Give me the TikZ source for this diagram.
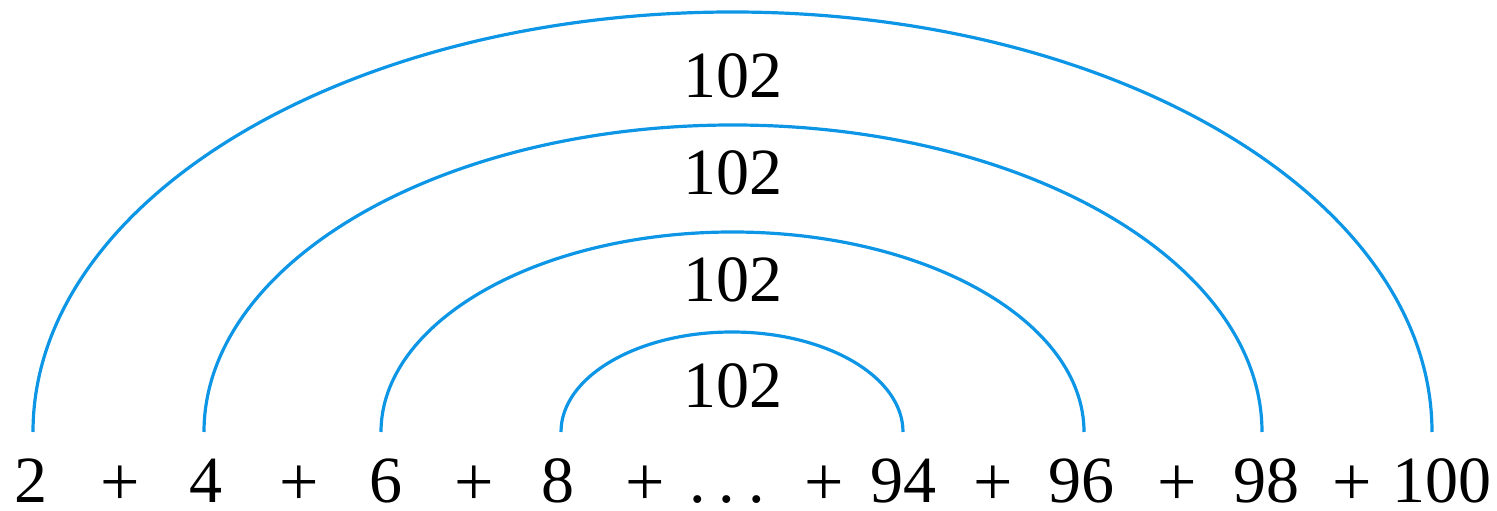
\documentclass[tikz,border=0pt]{standalone}
\usepackage{fontspec}
\setmainfont{Liberation Serif}
\usetikzlibrary{calc}
\definecolor{arcblue}{RGB}{14,150,230}
\begin{document}
\begin{tikzpicture}[x=1pt,y=1pt,
  term/.style={anchor=base, inner sep=0pt, text depth=0pt, font=\fontsize{66}{79}\selectfont},
  plus/.style={term, yshift=-3pt, font=\fontsize{70}{84}\selectfont},
  sumlabel/.style={anchor=base, inner sep=0pt, text depth=0pt, font=\fontsize{66}{79}\selectfont},
  pairarc/.style={arcblue, line width=3.2pt}]
\useasboundingbox (0,0) rectangle (1497,511);
\node[term] (t2) at (31,8) {2};
\node[plus] (p1) at (120,8) {+};
\node[term] (t4) at (206,8) {4};
\node[plus] (p2) at (299,8) {+};
\node[term] (t6) at (386,8) {6};
\node[plus] (p3) at (474,8) {+};
\node[term] (t8) at (558,8) {8};
\node[plus] (p4) at (645,8) {+};
\node[term] (dots) at (727,8) {.\hspace{13pt}.\hspace{13pt}.};
\node[plus] (p5) at (824,8) {+};
\node[term] (t94) at (903,8) {94};
\node[plus] (p6) at (993,8) {+};
\node[term] (t96) at (1081,8) {96};
\node[plus] (p7) at (1177,8) {+};
\node[term] (t98) at (1266,8) {98};
\node[plus] (p8) at (1352,8) {+};
\node[term] (t100) at (1442,8) {100};
\coordinate (a2) at (33,79);
\coordinate (a4) at (204,79);
\coordinate (a6) at (381,79);
\coordinate (a8) at (561,79);
\coordinate (a94) at (903,79);
\coordinate (a96) at (1084,79);
\coordinate (a98) at (1262,79);
\coordinate (a100) at (1432,79);
\draw[pairarc] let \p1=(a2), \p2=(a100) in (\p1) arc[start angle=180, end angle=0, x radius={(\x2-\x1)/2}, y radius=420pt];
\draw[pairarc] let \p1=(a4), \p2=(a98) in (\p1) arc[start angle=180, end angle=0, x radius={(\x2-\x1)/2}, y radius=307pt];
\draw[pairarc] let \p1=(a6), \p2=(a96) in (\p1) arc[start angle=180, end angle=0, x radius={(\x2-\x1)/2}, y radius=200pt];
\draw[pairarc] let \p1=(a8), \p2=(a94) in (\p1) arc[start angle=180, end angle=0, x radius={(\x2-\x1)/2}, y radius=100pt];
\node[sumlabel] (s1) at (733,413) {102};
\node[sumlabel] (s2) at (733,316) {102};
\node[sumlabel] (s3) at (733,209) {102};
\node[sumlabel] (s4) at (733,103) {102};
\end{tikzpicture}
\end{document}
